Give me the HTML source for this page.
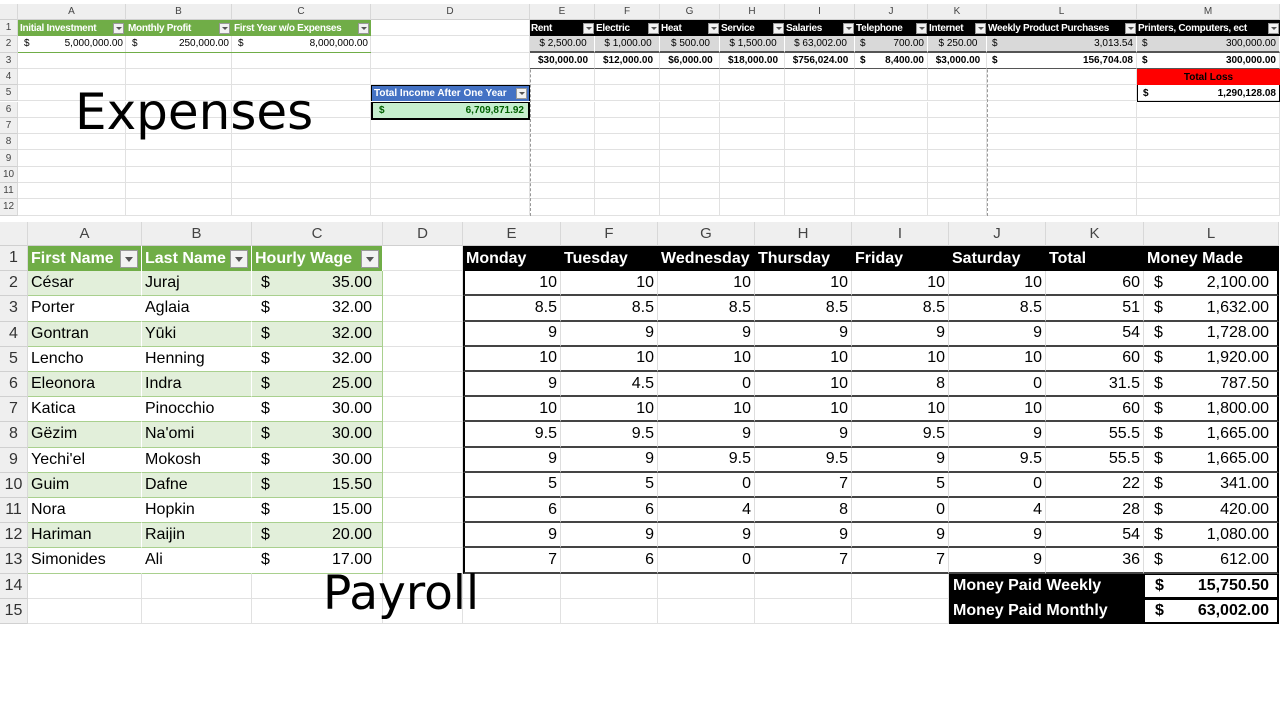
<!DOCTYPE html>
<html><head><meta charset="utf-8">
<style>
body{margin:0;width:1280px;height:720px;background:#fff;overflow:hidden;position:relative;font-family:"Liberation Sans",sans-serif}
.c{position:absolute;box-sizing:border-box;white-space:nowrap;overflow:visible;display:flex;align-items:center}
.hd{background:#efefef;color:#444;justify-content:center;border-right:1px solid #d8d8d8;border-bottom:1px solid #d0d0d0}
.g{border-right:1px solid #e1e1e1;border-bottom:1px solid #e1e1e1}
.dd{display:inline-block;width:11px;height:11px;background:#f2f2f2;border:1px solid #999;box-sizing:border-box;margin-left:auto;position:relative}
.dd:after{content:"";position:absolute;left:2px;top:3px;border-left:3px solid transparent;border-right:3px solid transparent;border-top:3px solid #555}
.big .dd{width:18px;height:18px}
.big .dd:after{left:4px;top:6px;border-left:4px solid transparent;border-right:4px solid transparent;border-top:5px solid #555}
</style></head><body>
<script>
// top sheet
const topCols=[["A",18,126],["B",126,232],["C",232,371],["D",371,530],["E",530,595],["F",595,660],["G",660,720],["H",720,785],["I",785,855],["J",855,928],["K",928,987],["L",987,1137],["M",1137,1280]];
const TY0=20,TRH=16.3;
const expHeads=["Rent","Electric","Heat","Service","Salaries","Telephone","Internet","Weekly Product Purchases","Printers, Computers, ect"];
const expWeekly=["$  2,500.00","$  1,000.00","$   500.00","$  1,500.00","$  63,002.00","700.00","$  250.00","3,013.54","300,000.00"];
const expYear=["$30,000.00","$12,000.00","$6,000.00","$18,000.00","$756,024.00","8,400.00","$3,000.00","156,704.08","300,000.00"];
// bottom sheet
const botCols=[["A",28,142],["B",142,252],["C",252,383],["D",383,463],["E",463,561],["F",561,658],["G",658,755],["H",755,852],["I",852,949],["J",949,1046],["K",1046,1144],["L",1144,1279]];
const BY0=246,BRH=25.2;
const firstNames=["César","Porter","Gontran","Lencho","Eleonora","Katica","Gëzim","Yechi'el","Guim","Nora","Hariman","Simonides"];
const lastNames=["Juraj","Aglaia","Yūki","Henning","Indra","Pinocchio","Na'omi","Mokosh","Dafne","Hopkin","Raijin","Ali"];
const wages=["35.00","32.00","32.00","32.00","25.00","30.00","30.00","30.00","15.50","15.00","20.00","17.00"];
const days=["Monday","Tuesday","Wednesday","Thursday","Friday","Saturday","Total","Money Made"];
const hours=[[10,10,10,10,10,10,60],[8.5,8.5,8.5,8.5,8.5,8.5,51],[9,9,9,9,9,9,54],[10,10,10,10,10,10,60],[9,4.5,0,10,8,0,31.5],[10,10,10,10,10,10,60],[9.5,9.5,9,9,9.5,9,55.5],[9,9,9.5,9.5,9,9.5,55.5],[5,5,0,7,5,0,22],[6,6,4,8,0,4,28],[9,9,9,9,9,9,54],[7,6,0,7,7,9,36]];
const moneyMade=["2,100.00","1,632.00","1,728.00","1,920.00","787.50","1,800.00","1,665.00","1,665.00","341.00","420.00","1,080.00","612.00"];
const totals=[["Money Paid Weekly","15,750.50"],["Money Paid Monthly","63,002.00"]];

function mk(x,y,w,h,cls,css,html){
  const d=document.createElement('div');
  d.className='c '+(cls||'');
  d.style.cssText=`left:${x}px;top:${y}px;width:${w}px;height:${h}px;`+(css||'');
  if(html!==undefined)d.innerHTML=html;
  document.body.appendChild(d);return d;
}

// ===== TOP =====
let d=mk(0,0,1280,220,'','background:#fff');


d=mk(0,4,18,16,'hd','');


topCols.forEach(c=>{
  const e=mk(c[1],4,c[2]-c[1],16,'hd','font-size:10px',c[0]);
  
  
  for(let r=0;r<12;r++){
    const g=mk(c[1],TY0+r*TRH,c[2]-c[1],TRH,'g','');
    
    
  }
});
for(let r=0;r<12;r++){
  const e=mk(0,TY0+r*TRH,18,TRH,'hd','font-size:10px',String(r+1));
  
  
}
const fs='font-size:10px;font-family:"Liberation Sans Narrow","Liberation Sans",sans-serif;';
const invHeads=["Initial Investment","Monthly Profit","First Year w/o Expenses"];
const invVals=["5,000,000.00","250,000.00","8,000,000.00"];
invHeads.forEach((h,i)=>{
  const c=topCols[i];
  const e=mk(c[1],TY0,c[2]-c[1],TRH,'',fs+'background:#70ad47;color:#fff;font-weight:bold;padding:0 2px;letter-spacing:-0.3px',h+'<span class="dd"></span>');
  
  
  const v=mk(c[1],TY0+TRH,c[2]-c[1],TRH,'',fs+'border-bottom:1px solid #70ad47;padding:0 3px 0 6px;justify-content:space-between','<span>$</span><span>'+invVals[i]+'</span>');
  
  
});
d=mk(75,82,250,60,'','font-size:50px;font-family:"DejaVu Sans",sans-serif;color:#000','Expenses');


d=mk(371,TY0+4*TRH,159,TRH,'',fs+'background:#4472c4;color:#fff;font-weight:bold;padding:0 2px;border:1px solid #000;border-bottom:none','Total Income After One Year<span class="dd"></span>');


d=mk(371,TY0+5*TRH,159,TRH+2,'',fs+'background:#c6efce;color:#006100;font-weight:bold;padding:0 4px 0 6px;justify-content:space-between;border:2px solid #000;border-top:1px solid #000','<span>$</span><span>6,709,871.92</span>');


[530,987].forEach(x=>{const l=mk(x,20,0,196,'','border-left:1px dashed #999');

});
expHeads.forEach((h,i)=>{
  const c=topCols[i+4];const w=c[2]-c[1];
  const e=mk(c[1],TY0,w,TRH,'',fs+'background:#000;color:#fff;font-weight:bold;padding:0 1px;letter-spacing:-0.3px',h+'<span class="dd"></span>');
  
  
  const split=(i==5||i>=7);
  const wk=split?'<span>$</span><span>'+expWeekly[i]+'</span>':'<span style="margin:0 auto">'+expWeekly[i]+'</span>';
  const v=mk(c[1],TY0+TRH,w,TRH,'',fs+'background:#d9d9d9;border-bottom:2px solid #555;border-right:1px solid #fff;padding:0 3px 0 5px;justify-content:space-between',wk);
  
  
  const yr=split?'<span>$</span><span>'+expYear[i]+'</span>':'<span style="margin:0 auto">'+expYear[i]+'</span>';
  const y=mk(c[1],TY0+2*TRH,w,TRH,'',fs+'background:#fff;font-weight:bold;border-bottom:1px solid #555;border-right:1px solid #e1e1e1;padding:0 3px 0 5px;justify-content:space-between',yr);
  
  
});
d=mk(1137,TY0+3*TRH,143,TRH,'',fs+'background:#f00;color:#000;font-weight:bold;justify-content:center','Total Loss');


d=mk(1137,TY0+4*TRH,143,TRH+1,'',fs+'font-weight:bold;border:1px solid #000;border-top:none;padding:0 3px 0 5px;justify-content:space-between','<span>$</span><span>1,290,128.08</span>');



// ===== BOTTOM =====
d=mk(0,222,28,24,'hd','');


botCols.forEach(c=>{
  const e=mk(c[1],222,c[2]-c[1],24,'hd','font-size:15px',c[0]);
  
  
  for(let r=0;r<15;r++){
    const g=mk(c[1],BY0+r*BRH,c[2]-c[1],BRH,'g','');
    
    
  }
});
for(let r=0;r<15;r++){
  const e=mk(0,BY0+r*BRH,28,BRH,'hd','font-size:16px;color:#333',String(r+1));
  
  
}
const bf='font-size:16px;';
["First Name","Last Name","Hourly Wage"].forEach((h,i)=>{
  const c=botCols[i];
  const e=mk(c[1],BY0,c[2]-c[1],BRH,'big',bf+'background:#70ad47;color:#fff;font-weight:bold;padding:0 3px;border-right:1px solid #fff',h+'<span class="dd"></span>');
  
  
});
firstNames.forEach((fn,r)=>{
  const y=BY0+(r+1)*BRH,bg=r%2==0?'#e2efda':'#fff';
  const base=bf+`background:${bg};border-bottom:1px solid #a9d08e;padding:0 3px;`;
  let e=mk(28,y,114,BRH,'',base+'border-right:1px solid #fff',fn);
  
  
  e=mk(142,y,110,BRH,'',base+'border-right:1px solid #fff',lastNames[r]);
  
  
  e=mk(252,y,131,BRH,'',base+'justify-content:space-between;padding:0 10px 0 9px;border-right:1px solid #a9d08e','<span>$</span><span>'+wages[r]+'</span>');
  
  
});
days.forEach((h,i)=>{
  const c=botCols[i+4];
  const e=mk(c[1],BY0,c[2]-c[1],BRH,'',bf+'background:#000;color:#fff;font-weight:bold;padding:0 3px',h);
  
  
});
hours.forEach((row,r)=>{
  const y=BY0+(r+1)*BRH;
  row.forEach((v,i)=>{
    const c=botCols[i+4];
    const e=mk(c[1],y,c[2]-c[1],BRH,'',bf+'justify-content:flex-end;padding:0 3px;border-bottom:2px solid #444;border-right:1px solid #ddd;background:#fff'+(i==0?';border-left:2px solid #000':''),String(v));
    
    
  });
  const e=mk(1144,y,135,BRH,'',bf+'justify-content:space-between;padding:0 8px 0 10px;border-bottom:2px solid #444;border-right:2px solid #000;background:#fff','<span>$</span><span>'+moneyMade[r]+'</span>');
  
  
});
totals.forEach((t,k)=>{
  const y=BY0+(13+k)*BRH;
  let e=mk(949,y,195,BRH,'',bf+'background:#000;color:#fff;font-weight:bold;padding:0 4px',t[0]);
  
  
  e=mk(1144,y,135,BRH,'',bf+'font-weight:bold;justify-content:space-between;padding:0 8px 0 10px;background:#fff;border:1px solid #000;border-right:2px solid #000;border-bottom:2px solid #000','<span>$</span><span>'+t[1]+'</span>');
  
  
});
d=mk(323,565,180,56,'','font-size:47px;font-family:"DejaVu Sans",sans-serif;color:#000','Payroll');


</script>
</body></html>
